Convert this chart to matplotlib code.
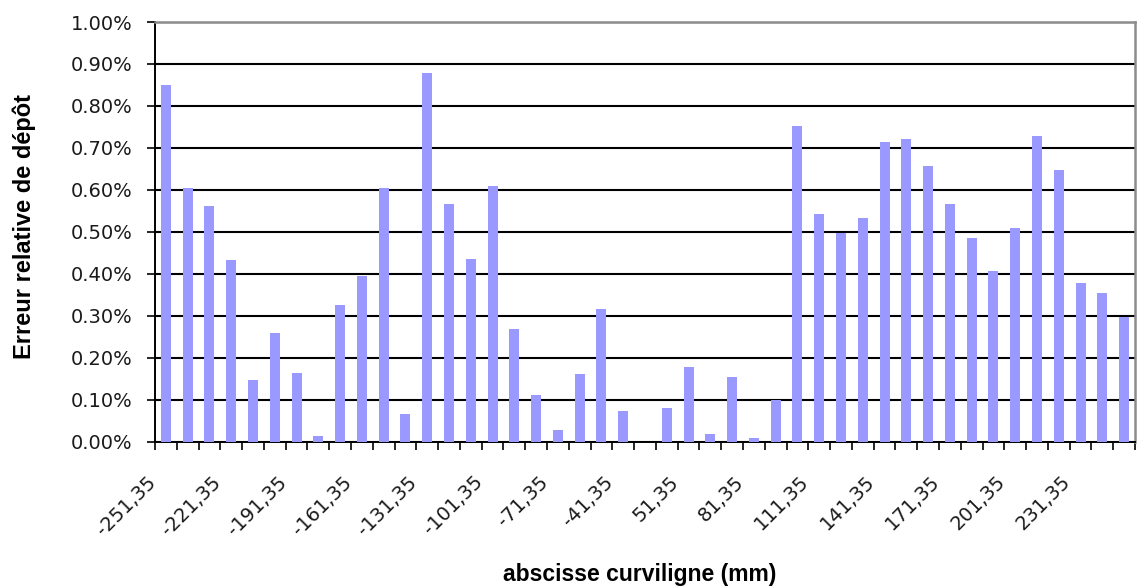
import numpy as np
import matplotlib
matplotlib.use("Agg")
import matplotlib.pyplot as plt
from matplotlib.ticker import FixedLocator, FuncFormatter, MultipleLocator
from matplotlib.transforms import ScaledTranslation

# Curvilinear abscissa of each measurement point (mm)
abscissa = [
    "-251,35", "-241,35", "-231,35", "-221,35", "-211,35", "-201,35",
    "-191,35", "-181,35", "-171,35", "-161,35", "-151,35", "-141,35",
    "-131,35", "-121,35", "-111,35", "-101,35", "-91,35", "-81,35",
    "-71,35", "-61,35", "-51,35", "-41,35",
    "31,35", "41,35", "51,35", "61,35", "71,35", "81,35", "91,35",
    "101,35", "111,35", "121,35", "131,35", "141,35", "151,35",
    "161,35", "171,35", "181,35", "191,35", "201,35", "211,35",
    "221,35", "231,35", "241,35", "251,35",
]

# Relative deposit error (%)
error_pct = [
    0.850, 0.605, 0.562, 0.432, 0.147, 0.259, 0.163, 0.013, 0.326, 0.395,
    0.605, 0.066, 0.879, 0.566, 0.436, 0.609, 0.268, 0.110, 0.028, 0.162,
    0.317, 0.072,
    0.000, 0.080, 0.177, 0.017, 0.153, 0.008, 0.099, 0.753, 0.542, 0.496,
    0.532, 0.715, 0.720, 0.656, 0.566, 0.484, 0.407, 0.508, 0.729, 0.648,
    0.378, 0.354, 0.296,
]

label_step = 3
bar_color = "#9999FF"
tick_font = "DejaVu Sans"
title_font = "Liberation Sans"

W, H = 1137, 587
fig = plt.figure(figsize=(W / 100, H / 100), dpi=100)
fig.patch.set_facecolor("white")
left, right, top, bottom = 155, 1135, 22, 441.5
ax = fig.add_axes([left / W, (H - bottom) / H, (right - left) / W, (bottom - top) / H])

x = np.arange(len(abscissa))
ax.bar(x, error_pct, width=0.46, color=bar_color, zorder=3)

ax.set_xlim(-0.5, len(abscissa) - 0.5)
ax.set_ylim(0, 1.0)

# y axis: percentage ticks every 0.10 %
ax.yaxis.set_major_locator(MultipleLocator(0.1))
ax.yaxis.set_major_formatter(FuncFormatter(lambda v, _: f"{v:.2f}%"))
ax.tick_params(axis="y", which="major", direction="out", length=6, width=1.2,
               pad=10, labelsize=14, colors="black", labelcolor="#1a1a1a")
for lab in ax.get_yticklabels():
    lab.set_fontfamily(tick_font)

ax.grid(axis="y", color="black", linewidth=1.5, zorder=1)
ax.set_axisbelow(True)

# x axis: labels every third point, tick marks between categories
major_pos = x[::label_step]
ax.xaxis.set_major_locator(FixedLocator(major_pos))
ax.set_xticklabels([abscissa[i] for i in major_pos], rotation=45,
                   ha="right", va="center", rotation_mode="anchor",
                   fontsize=14, fontfamily=tick_font, color="#1a1a1a")
ax.xaxis.set_minor_locator(FixedLocator(np.arange(len(abscissa) + 1) - 0.5))
ax.tick_params(axis="x", which="major", length=0, pad=27)
ax.tick_params(axis="x", which="minor", direction="out", length=6, width=1.2,
               colors="black")
shift = ScaledTranslation(-0.13, 0, fig.dpi_scale_trans)
for lab in ax.get_xticklabels():
    lab.set_transform(lab.get_transform() + shift)

for side in ("left", "bottom"):
    ax.spines[side].set_color("black")
    ax.spines[side].set_linewidth(1.4)
for side in ("top", "right"):
    ax.spines[side].set_color("#8c8c8c")
    ax.spines[side].set_linewidth(1.8)

ax.set_xlabel("abscisse curviligne (mm)", fontsize=16.5, fontweight="bold",
              fontfamily=title_font)
ax.xaxis.set_label_coords(0.495, -0.29)
ax.set_ylabel("Erreur relative de dépôt", fontsize=17, fontweight="bold",
              fontfamily=title_font)
ax.yaxis.set_label_coords(-0.121, 0.512)

fig.savefig("out.png", dpi=100, facecolor="white")
